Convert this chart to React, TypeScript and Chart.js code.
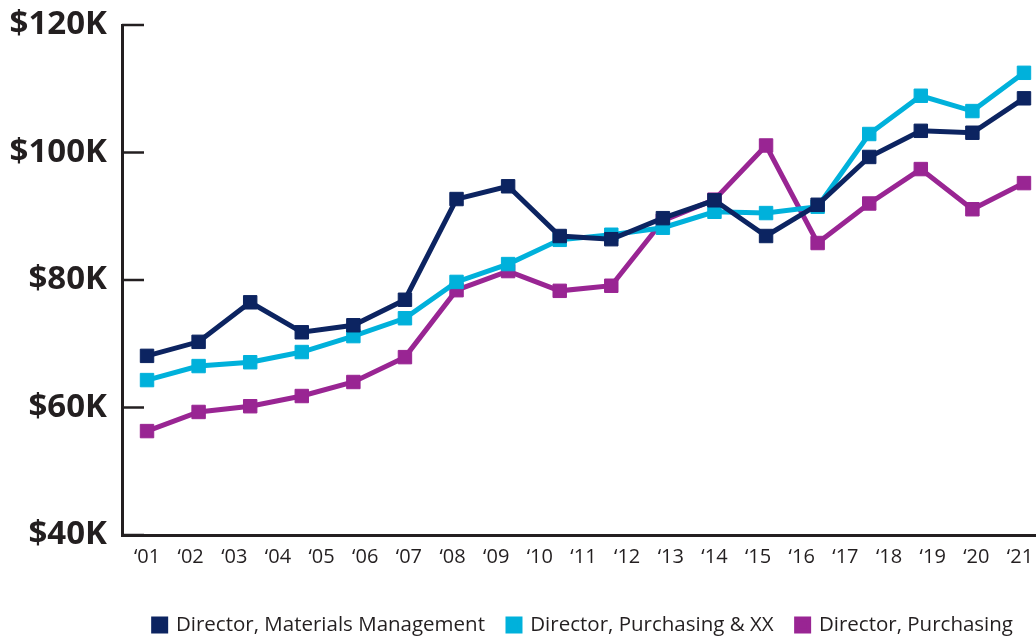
import React, { useEffect, useRef } from "react";
import { Chart, registerables } from "chart.js";

Chart.register(...registerables);

// Year tick labels shown along the bottom axis
const yearLabels = ["‘01", "‘02", "‘03", "‘04", "‘05", "‘06", "‘07", "‘08", "‘09", "‘10", "‘11", "‘12", "‘13", "‘14", "‘15", "‘16", "‘17", "‘18", "‘19", "‘20", "‘21"];

// Survey periods (18 observations, evenly spaced)
const periods = [0, 1, 2, 3, 4, 5, 6, 7, 8, 9, 10, 11, 12, 13, 14, 15, 16, 17];

// Salaries in $K
const materialsManagement = [68.1, 70.3, 76.5, 71.8, 72.9, 76.9, 92.7, 94.7, 86.9, 86.4, 89.7, 92.5, 86.9, 91.8, 99.3, 103.4, 103.1, 108.5];
const purchasingXX = [64.3, 66.5, 67.1, 68.7, 71.2, 74.0, 79.7, 82.5, 86.3, 87.1, 88.2, 90.7, 90.5, 91.5, 102.9, 108.9, 106.5, 112.5];
const purchasing = [56.3, 59.3, 60.2, 61.8, 64.0, 67.9, 78.4, 81.4, 78.3, 79.1, 89.3, 92.6, 101.1, 85.8, 92.0, 97.4, 91.1, 95.2];

const seriesNames = ["Director, Materials Management", "Director, Purchasing & XX", "Director, Purchasing"];
const seriesColors = ["#0c2461", "#00b1db", "#992593"];

const yTicks = [40, 60, 80, 100, 120];

const INK = "#231f20";

const innerTicks = {
  id: "innerTicks",
  beforeDatasetsDraw(chart: any) {
    const y = chart.scales.y;
    const area = chart.chartArea;
    const ctx = chart.ctx;
    ctx.save();
    ctx.strokeStyle = INK;
    ctx.lineWidth = 2.5;
    y.ticks.forEach((t: any) => {
      const py = y.getPixelForValue(t.value);
      ctx.beginPath();
      ctx.moveTo(area.left, py);
      ctx.lineTo(area.left + 22, py);
      ctx.stroke();
    });
    ctx.restore();
  },
};

export default function App() {
  const ref = useRef<HTMLCanvasElement | null>(null);

  useEffect(() => {
    if (!ref.current) return;
    const series = [materialsManagement, purchasingXX, purchasing];
    const chart = new Chart(ref.current, {
      type: "line",
      data: {
        datasets: series.map((vals, i) => ({
          label: seriesNames[i],
          data: vals.map((v, j) => ({ x: periods[j], y: v })),
          borderColor: seriesColors[i],
          backgroundColor: seriesColors[i],
          pointBackgroundColor: seriesColors[i],
          pointBorderColor: seriesColors[i],
          pointStyle: "rect",
          pointRadius: 9.5,
          pointBorderWidth: 1,
          borderWidth: 5,
          tension: 0,
          clip: false,
          xAxisID: "x",
        })),
      },
      options: {
        animation: false,
        responsive: true,
        maintainAspectRatio: false,
        layout: { autoPadding: false, padding: { top: 25, right: 0, left: 0, bottom: -9.25 } },
        plugins: {
          tooltip: { enabled: false },
          legend: {
            position: "bottom",
            align: "end",
            labels: {
              boxWidth: 12,
              boxHeight: 12,
              padding: 23,
              color: INK,
              font: { family: "'Open Sans'", size: 20.5 },
            },
          },
        },
        scales: {
          x: {
            type: "linear",
            display: false,
            min: -0.485,
            max: 17.233,
          },
          xl: {
            type: "linear",
            position: "bottom",
            min: -0.573,
            max: 20.367,
            afterBuildTicks: (s: any) => {
              s.ticks = yearLabels.map((_, i) => ({ value: i }));
            },
            afterFit: (s: any) => {
              s.height = 56.75;
              s.paddingLeft = 0;
              s.paddingRight = 0;
            },
            ticks: {
              autoSkip: false,
              maxRotation: 0,
              padding: 10,
              color: INK,
              font: { family: "'Open Sans'", size: 20 },
              callback: (v: any) => yearLabels[Math.round(Number(v))] ?? "",
            },
            grid: { display: true, drawOnChartArea: false, drawTicks: false },
            border: { display: true, color: INK, width: 3 },
          },
          y: {
            type: "linear",
            min: 40,
            max: 120,
            afterBuildTicks: (s: any) => {
              s.ticks = yTicks.map((v) => ({ value: v }));
            },
            afterFit: (s: any) => {
              s.width = 122;
              s.paddingTop = 0;
              s.paddingBottom = 0;
            },
            ticks: {
              padding: 15,
              color: INK,
              font: { family: "'Open Sans'", size: 33, weight: "bold" },
              callback: (v: any) => "$" + v + "K",
            },
            grid: { display: true, drawOnChartArea: false, drawTicks: false },
            border: { display: true, color: INK, width: 3 },
          },
        },
      },
      plugins: [innerTicks],
    });
    return () => chart.destroy();
  }, []);

  return (
    <div style={{ position: "absolute", left: 0, top: 0, width: 1036, height: 636 }}>
      <canvas ref={ref} />
    </div>
  );
}
